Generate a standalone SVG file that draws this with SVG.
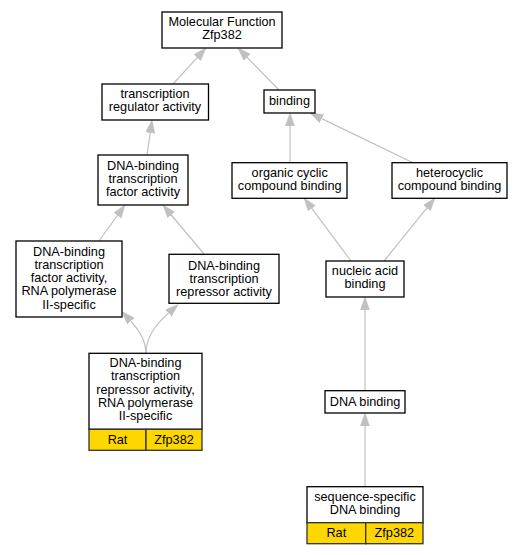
<svg xmlns="http://www.w3.org/2000/svg" width="524" height="555" viewBox="0 0 524 555">
<style>
.box{fill:#fff;stroke:#000;stroke-width:1.3}
.gene{fill:#FFD700;stroke:#333;stroke-width:1.3}
.edge{fill:none;stroke:#c0c0c0;stroke-width:1.2}
text{font-family:"Liberation Sans",Arial,sans-serif;font-size:12.7px;fill:#000;text-anchor:middle}
</style>
<defs>
<marker id="ah" markerUnits="userSpaceOnUse" markerWidth="14" markerHeight="10" refX="0" refY="4.6" orient="auto">
<path d="M0,0 L13,4.6 L0,9.2 Z" fill="#c0c0c0" stroke="#c0c0c0" stroke-width="0.5"/>
</marker>
</defs>
<rect width="524" height="555" fill="#fff"/>
<g id="connectors">
<path class="edge" marker-end="url(#ah)" d="M173,84 L197.2,57.6"/>
<path class="edge" marker-end="url(#ah)" d="M279,90 L247.1,57.3"/>
<path class="edge" marker-end="url(#ah)" d="M147,155 L150.2,132.9"/>
<path class="edge" marker-end="url(#ah)" d="M290,162.7 L290,126"/>
<path class="edge" marker-end="url(#ah)" d="M413,162.7 L321.7,118.6"/>
<path class="edge" marker-end="url(#ah)" d="M99,241 L117.4,215.5"/>
<path class="edge" marker-end="url(#ah)" d="M204,254 L171.3,215"/>
<path class="edge" marker-end="url(#ah)" d="M351,261 L311.8,208.4"/>
<path class="edge" marker-end="url(#ah)" d="M384,261 L426.8,208.1"/>
<path class="edge" marker-end="url(#ah)" d="M365,390.7 L365,310"/>
<path class="edge" marker-end="url(#ah)" d="M365,486.7 L365,426"/>
<path class="edge" marker-end="url(#ah)" d="M146,353 C146,341 139,330 130.8,321.1"/>
<path class="edge" marker-end="url(#ah)" d="M146,353 C146,337 156,324 168.4,313.1"/>
</g>
<g id="mf">
<rect class="box" x="162" y="12" width="120" height="36"/>
<text x="222" y="26">Molecular Function</text>
<text x="222" y="38.5">Zfp382</text>
</g>
<g id="tra">
<rect class="box" x="102" y="84" width="106.5" height="36"/>
<text x="155" y="98">transcription</text>
<text x="155" y="111">regulator activity</text>
</g>
<g id="binding">
<rect class="box" x="264" y="90" width="51" height="23"/>
<text x="289.5" y="105">binding</text>
</g>
<g id="dtfa">
<rect class="box" x="98" y="155" width="90" height="50"/>
<text x="143" y="169.5">DNA-binding</text>
<text x="143" y="182.5">transcription</text>
<text x="143" y="195.5">factor activity</text>
</g>
<g id="occ">
<rect class="box" x="232" y="162.7" width="115" height="35.6"/>
<text x="289.7" y="177">organic cyclic</text>
<text x="289.7" y="190">compound binding</text>
</g>
<g id="hcb">
<rect class="box" x="392" y="162.7" width="115" height="35.6"/>
<text x="449.5" y="177">heterocyclic</text>
<text x="449.5" y="190">compound binding</text>
</g>
<g id="tfpol2">
<rect class="box" x="16" y="241" width="106" height="76"/>
<text x="69" y="255.5">DNA-binding</text>
<text x="69" y="268.8">transcription</text>
<text x="69" y="282.1">factor activity,</text>
<text x="69" y="295.4">RNA polymerase</text>
<text x="69" y="308.7">II-specific</text>
</g>
<g id="repressor">
<rect class="box" x="169" y="254.3" width="110" height="49"/>
<text x="224" y="269.5">DNA-binding</text>
<text x="224" y="282.7">transcription</text>
<text x="224" y="295.9">repressor activity</text>
</g>
<g id="nucleic">
<rect class="box" x="326" y="261" width="78" height="36"/>
<text x="365" y="275">nucleic acid</text>
<text x="365" y="288">binding</text>
</g>
<g id="reppol2">
<rect class="box" x="89" y="353.3" width="113" height="76"/>
<rect class="gene" x="89" y="429.3" width="57" height="21"/>
<rect class="gene" x="146" y="429.3" width="56" height="21"/>
<text x="145.5" y="367">DNA-binding</text>
<text x="145.5" y="380.3">transcription</text>
<text x="145.5" y="393.6">repressor activity,</text>
<text x="145.5" y="406.9">RNA polymerase</text>
<text x="145.5" y="420.2">II-specific</text>
<text x="117.5" y="443.5">Rat</text>
<text x="174" y="443.5">Zfp382</text>
</g>
<g id="dnabinding">
<rect class="box" x="325" y="390.7" width="80" height="22.3"/>
<text x="365" y="405.5">DNA binding</text>
</g>
<g id="seqspec">
<rect class="box" x="307" y="486.7" width="116" height="36"/>
<rect class="gene" x="307" y="522.7" width="58.7" height="21"/>
<rect class="gene" x="365.7" y="522.7" width="57.3" height="21"/>
<text x="365" y="501">sequence-specific</text>
<text x="365" y="514">DNA binding</text>
<text x="336.3" y="536.5">Rat</text>
<text x="394.3" y="536.5">Zfp382</text>
</g>
</svg>
